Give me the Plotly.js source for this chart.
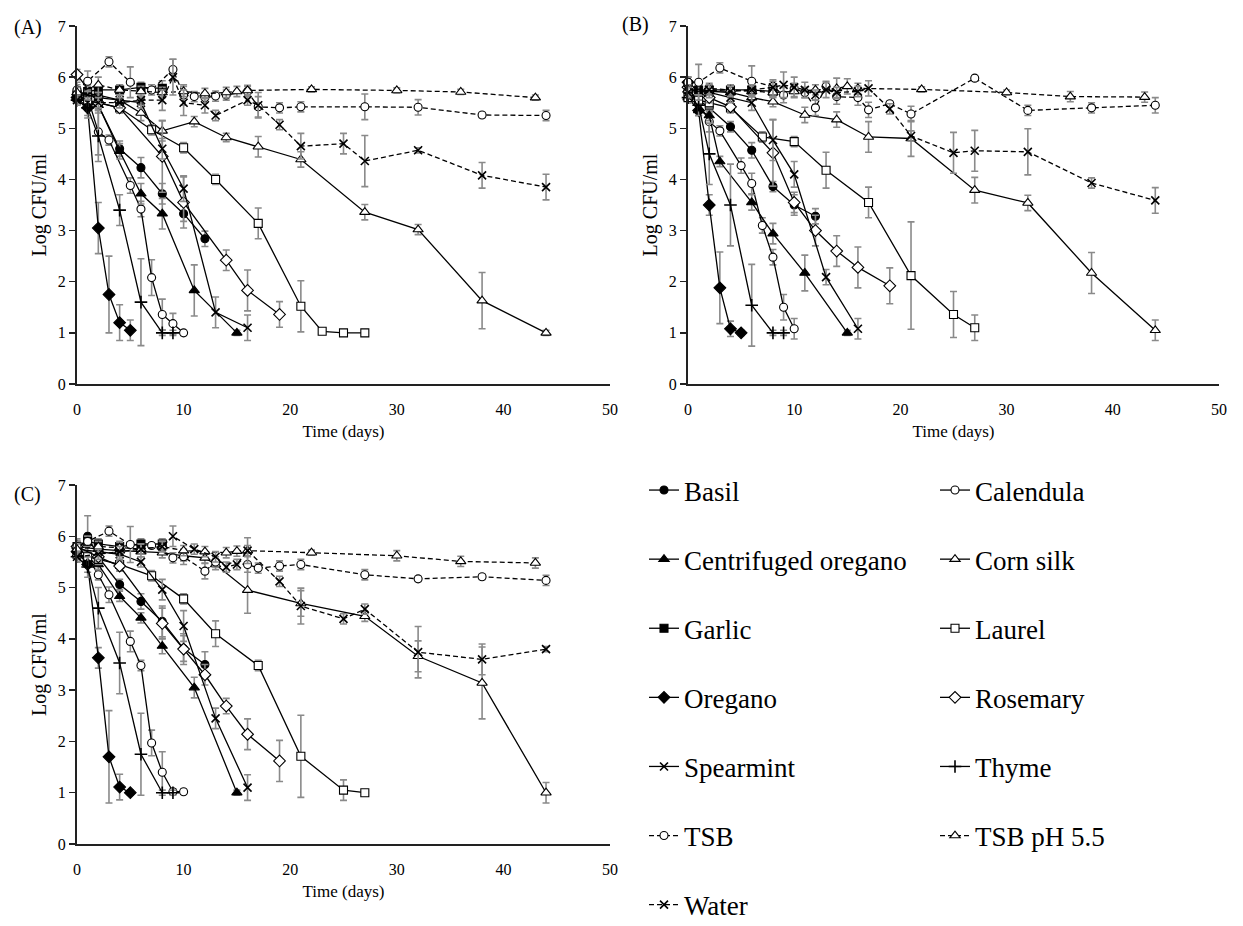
<!DOCTYPE html>
<html><head><meta charset="utf-8">
<script src="https://cdn.plot.ly/plotly-3.0.1.min.js"></script>
<style>html,body{margin:0;padding:0;background:#fff;overflow:hidden}#chart{width:1243px;height:926px}</style>
</head><body><div id="chart"></div>
<script>
// ---------- Panel A ----------
var A_Basil_day=[0,1,2,4,6,8,10,12], A_Basil_log=[5.6,5.55,5.45,4.6,4.23,3.72,3.33,2.84], A_Basil_sd=[0.1,0.1,0.15,0.15,0.2,0.2,0.15,0.15];
var A_Calendula_day=[0,1,2,3,5,6,7,8,9,10], A_Calendula_log=[5.7,5.6,4.93,4.77,3.88,3.42,2.08,1.36,1.18,1.0], A_Calendula_sd=[0.15,0.25,0.45,0.1,0.15,0.15,0.35,0.3,0.2,0.05];
var A_CentOregano_day=[0,1,2,4,6,8,11,15], A_CentOregano_log=[5.6,5.5,5.45,4.55,3.72,3.33,1.83,1.0], A_CentOregano_sd=[0.1,0.1,0.1,0.15,0.2,0.3,0.5,0.05];
var A_CornSilk_day=[0,2,4,6,8,11,14,17,21,27,32,38,44], A_CornSilk_log=[5.7,5.65,5.55,5.3,4.95,5.13,4.82,4.64,4.39,3.36,3.02,1.63,1.0], A_CornSilk_sd=[0.1,0.1,0.1,0.15,0.2,0.1,0.08,0.2,0.15,0.15,0.1,0.55,0.05];
var A_Garlic_day=[0,1,2,4,6,8], A_Garlic_log=[5.65,5.72,5.75,5.75,5.8,5.78], A_Garlic_sd=[0.1,0.1,0.1,0.1,0.1,0.15];
var A_Laurel_day=[0,1,2,4,7,10,13,17,21,23,25,27], A_Laurel_log=[5.6,5.55,5.5,5.4,4.97,4.62,4.0,3.14,1.52,1.03,1.0,1.0], A_Laurel_sd=[0.1,0.1,0.1,0.1,0.1,0.1,0.1,0.3,0.5,0.05,0.05,0.05];
var A_Oregano_day=[0,1,2,3,4,5], A_Oregano_log=[5.6,5.4,3.05,1.75,1.2,1.05], A_Oregano_sd=[0.1,0.15,0.5,0.75,0.35,0.2];
var A_Rosemary_day=[0,2,4,8,10,14,16,19], A_Rosemary_log=[6.05,5.5,5.4,4.45,3.55,2.42,1.83,1.36], A_Rosemary_sd=[0.1,0.1,0.1,0.7,0.5,0.2,0.4,0.25];
var A_Spearmint_day=[0,1,2,4,6,8,10,13,16], A_Spearmint_log=[5.7,5.65,5.6,5.55,5.5,4.6,3.82,1.4,1.1], A_Spearmint_sd=[0.1,0.1,0.1,0.1,0.1,0.2,0.25,0.3,0.25];
var A_Thyme_day=[0,1,2,4,6,8,9], A_Thyme_log=[5.55,5.4,4.85,3.4,1.6,1.0,1.0], A_Thyme_sd=[0.1,0.2,0.5,0.3,0.85,0.05,0.05];
var A_TSB_day=[0,1,3,5,7,9,10,11,12,13,14,16,17,19,21,27,32,38,44], A_TSB_log=[5.75,5.92,6.3,5.9,5.75,6.15,5.65,5.62,5.6,5.63,5.65,5.72,5.42,5.4,5.42,5.42,5.41,5.26,5.25], A_TSB_sd=[0.15,0.2,0.1,0.3,0.1,0.2,0.2,0.1,0.1,0.1,0.1,0.1,0.2,0.1,0.1,0.25,0.15,0.05,0.1];
var A_TSBpH_day=[0,2,4,6,8,10,12,14,15,16,22,30,36,43], A_TSBpH_log=[5.7,5.85,5.75,5.72,5.7,5.72,5.68,5.7,5.72,5.74,5.76,5.74,5.71,5.6], A_TSBpH_sd=[0.1,0.15,0.1,0.1,0.1,0.1,0.1,0.1,0.1,0.1,0.05,0.05,0.05,0.05];
var A_Water_day=[0,2,4,6,8,9,10,12,13,16,17,19,21,25,27,32,38,44], A_Water_log=[5.55,5.5,5.5,5.55,5.55,6.0,5.5,5.45,5.25,5.55,5.45,5.07,4.65,4.7,4.36,4.57,4.08,3.85], A_Water_sd=[0.1,0.1,0.1,0.1,0.2,0.35,0.25,0.15,0.1,0.1,0.25,0.1,0.25,0.2,0.5,0.05,0.25,0.25];
// ---------- Panel B ----------
var B_Basil_day=[0,1,2,4,6,8,10,12], B_Basil_log=[5.7,5.55,5.4,5.03,4.57,3.86,3.5,3.28], B_Basil_sd=[0.1,0.1,0.1,0.1,0.15,0.1,0.2,0.15];
var B_Calendula_day=[0,1,2,3,5,6,7,8,9,10], B_Calendula_log=[5.8,5.5,5.13,4.95,4.27,3.92,3.1,2.48,1.5,1.08], B_Calendula_sd=[0.15,0.2,0.2,0.1,0.15,0.2,0.15,0.15,0.25,0.2];
var B_CentOregano_day=[0,1,2,3,6,8,11,15], B_CentOregano_log=[5.6,5.35,5.25,4.35,3.55,2.94,2.17,1.0], B_CentOregano_sd=[0.1,0.1,0.1,0.1,0.15,0.2,0.35,0.05];
var B_CornSilk_day=[0,2,4,6,8,11,14,17,21,27,32,38,44], B_CornSilk_log=[5.75,5.72,5.7,5.6,5.52,5.26,5.17,4.83,4.8,3.79,3.54,2.17,1.05], B_CornSilk_sd=[0.1,0.1,0.1,0.15,0.1,0.15,0.15,0.3,0.35,0.25,0.15,0.4,0.2];
var B_Garlic_day=[0,1,2,4,6,8], B_Garlic_log=[5.85,5.75,5.75,5.75,5.75,5.72], B_Garlic_sd=[0.15,0.1,0.1,0.1,0.1,0.1];
var B_Laurel_day=[0,1,2,4,7,10,13,17,21,25,27], B_Laurel_log=[5.6,5.55,5.5,5.4,4.83,4.74,4.18,3.55,2.12,1.36,1.1], B_Laurel_sd=[0.1,0.1,0.1,0.1,0.1,0.1,0.35,0.3,1.05,0.45,0.25];
var B_Oregano_day=[0,1,2,3,4,5], B_Oregano_log=[5.9,5.35,3.5,1.88,1.08,1.0], B_Oregano_sd=[0.1,0.1,0.2,0.7,0.15,0.05];
var B_Rosemary_day=[0,2,4,8,10,12,14,16,19], B_Rosemary_log=[5.8,5.6,5.42,4.52,3.55,3.0,2.6,2.28,1.92], B_Rosemary_sd=[0.1,0.1,0.1,0.65,0.2,0.3,0.3,0.4,0.35];
var B_Spearmint_day=[0,2,4,6,8,10,13,16], B_Spearmint_log=[5.75,5.7,5.6,5.5,4.77,4.1,2.09,1.08], B_Spearmint_sd=[0.1,0.1,0.1,0.15,0.4,0.25,0.15,0.2];
var B_Thyme_day=[0,1,2,4,6,8,9], B_Thyme_log=[5.6,5.45,4.5,3.5,1.54,1.0,1.0], B_Thyme_sd=[0.1,0.2,0.6,0.8,0.8,0.05,0.05];
var B_TSB_day=[0,1,3,6,8,9,10,11,12,13,14,16,17,19,21,27,32,38,44], B_TSB_log=[5.9,5.9,6.18,5.92,5.82,5.65,5.78,5.7,5.4,5.82,5.62,5.6,5.36,5.48,5.28,5.98,5.35,5.4,5.45], B_TSB_sd=[0.1,0.35,0.1,0.3,0.1,0.15,0.1,0.1,0.15,0.1,0.15,0.15,0.15,0.05,0.15,0.05,0.1,0.1,0.15];
var B_TSBpH_day=[0,2,4,6,8,10,12,14,15,16,22,30,36,43], B_TSBpH_log=[5.75,5.78,5.75,5.72,5.7,5.72,5.75,5.78,5.82,5.78,5.76,5.7,5.62,5.61], B_TSBpH_sd=[0.1,0.1,0.1,0.1,0.1,0.1,0.1,0.2,0.15,0.1,0.05,0.05,0.1,0.1];
var B_Water_day=[0,2,4,6,8,9,10,11,12,13,14,16,17,19,21,25,27,32,38,44], B_Water_log=[5.7,5.75,5.72,5.75,5.8,5.85,5.8,5.75,5.65,5.75,5.7,5.72,5.78,5.38,4.85,4.52,4.56,4.54,3.93,3.59], B_Water_sd=[0.1,0.1,0.1,0.1,0.15,0.25,0.2,0.15,0.1,0.15,0.1,0.1,0.15,0.1,0.1,0.4,0.4,0.45,0.1,0.25];
// ---------- Panel C ----------
var C_Basil_day=[0,1,2,4,6,8,10,12], C_Basil_log=[5.7,6.0,5.6,5.06,4.73,4.34,3.81,3.5], C_Basil_sd=[0.15,0.4,0.1,0.1,0.15,0.3,0.25,0.25];
var C_Calendula_day=[0,1,2,3,5,6,7,8,9,10], C_Calendula_log=[5.8,5.6,5.25,4.86,3.95,3.48,1.97,1.4,1.02,1.02], C_Calendula_sd=[0.1,0.1,0.1,0.15,0.2,0.1,0.25,0.4,0.05,0.05];
var C_CentOregano_day=[0,1,2,4,6,8,11,15], C_CentOregano_log=[5.65,5.55,5.45,4.83,4.41,3.86,3.05,1.0], C_CentOregano_sd=[0.1,0.1,0.1,0.1,0.1,0.15,0.2,0.05];
var C_CornSilk_day=[0,2,4,6,8,10,12,13,16,21,27,32,38,44], C_CornSilk_log=[5.8,5.75,5.72,5.7,5.68,5.62,5.58,5.45,4.95,4.69,4.44,3.66,3.14,1.0], C_CornSilk_sd=[0.1,0.1,0.1,0.1,0.1,0.1,0.1,0.1,0.45,0.25,0.1,0.3,0.7,0.2];
var C_Garlic_day=[0,1,2,4,6,8], C_Garlic_log=[5.8,5.9,5.85,5.8,5.85,5.85], C_Garlic_sd=[0.15,0.1,0.1,0.1,0.1,0.1];
var C_Laurel_day=[0,1,2,4,7,10,13,17,21,25,27], C_Laurel_log=[5.65,5.6,5.55,5.45,5.23,4.78,4.1,3.48,1.71,1.05,1.0], C_Laurel_sd=[0.1,0.1,0.1,0.1,0.1,0.1,0.25,0.1,0.8,0.2,0.05];
var C_Oregano_day=[0,1,2,3,4,5], C_Oregano_log=[5.7,5.45,3.63,1.7,1.11,1.0], C_Oregano_sd=[0.1,0.15,0.2,0.9,0.25,0.05];
var C_Rosemary_day=[0,2,4,8,10,12,14,16,19], C_Rosemary_log=[5.8,5.6,5.42,4.3,3.8,3.3,2.69,2.14,1.62], C_Rosemary_sd=[0.1,0.1,0.1,0.3,0.3,0.2,0.15,0.3,0.4];
var C_Spearmint_day=[0,2,4,6,8,10,13,16], C_Spearmint_log=[5.75,5.7,5.65,5.5,4.96,4.25,2.45,1.1], C_Spearmint_sd=[0.1,0.1,0.1,0.1,0.2,0.3,0.2,0.25];
var C_Thyme_day=[0,1,2,4,6,8,9], C_Thyme_log=[5.6,5.4,4.6,3.53,1.75,1.0,1.0], C_Thyme_sd=[0.1,0.2,0.4,0.6,0.8,0.05,0.05];
var C_TSB_day=[0,1,3,5,7,9,10,12,13,16,17,19,21,27,32,38,44], C_TSB_log=[5.8,5.9,6.1,5.84,5.82,5.58,5.6,5.32,5.5,5.45,5.38,5.42,5.45,5.25,5.17,5.21,5.14], C_TSB_sd=[0.1,0.1,0.1,0.35,0.05,0.1,0.15,0.15,0.1,0.15,0.1,0.1,0.1,0.1,0.05,0.05,0.1];
var C_TSBpH_day=[0,2,4,6,8,10,12,14,15,16,22,30,36,43], C_TSBpH_log=[5.75,5.8,5.78,5.75,5.8,5.72,5.7,5.68,5.71,5.72,5.68,5.62,5.51,5.48], C_TSBpH_sd=[0.1,0.1,0.1,0.1,0.1,0.1,0.1,0.1,0.1,0.1,0.05,0.1,0.1,0.1];
var C_Water_day=[0,2,4,6,8,9,11,13,14,15,16,19,21,25,27,32,38,44], C_Water_log=[5.6,5.65,5.7,5.75,5.8,6.0,5.75,5.6,5.4,5.45,5.72,5.12,4.64,4.39,4.58,3.74,3.6,3.8], C_Water_sd=[0.1,0.1,0.1,0.1,0.1,0.2,0.1,0.1,0.1,0.1,0.25,0.1,0.35,0.1,0.1,0.5,0.3,0.05];

var seriesKeys=['Basil','Calendula','CentOregano','CornSilk','Garlic','Laurel','Oregano','Rosemary','Spearmint','Thyme','TSB','TSBpH','Water'];
var seriesNames=['Basil','Calendula','Centrifuged oregano','Corn silk','Garlic','Laurel','Oregano','Rosemary','Spearmint','Thyme','TSB','TSB pH 5.5','Water'];
var panelIds=['A','B','C'];
var panelLabels=['(A)','(B)','(C)'];
var xTickVals=[0,10,20,30,40,50];
var yTickVals=[0,1,2,3,4,5,6,7];

var BLK='#000';
var DASH='5px,3px';
var styles={
 Basil:{sym:'circle',fill:BLK,size:8,dash:'solid'},
 Calendula:{sym:'circle',fill:'#fff',size:8,dash:'solid'},
 CentOregano:{sym:'triangle-up',fill:BLK,size:9,dash:'solid'},
 CornSilk:{sym:'triangle-up',fill:'#fff',size:9,dash:'solid'},
 Garlic:{sym:'square',fill:BLK,size:8,dash:'solid'},
 Laurel:{sym:'square',fill:'#fff',size:8,dash:'solid'},
 Oregano:{sym:'diamond',fill:BLK,size:9,dash:'solid'},
 Rosemary:{sym:'diamond',fill:'#fff',size:9,dash:'solid'},
 Spearmint:{sym:'x-thin',fill:BLK,size:8,dash:'solid'},
 Thyme:{sym:'cross-thin',fill:BLK,size:9,dash:'solid'},
 TSB:{sym:'circle',fill:'#fff',size:8,dash:DASH},
 TSBpH:{sym:'triangle-up',fill:'#fff',size:9,dash:DASH},
 Water:{sym:'x-thin',fill:BLK,size:8,dash:DASH}
};

var traces=[];
panelIds.forEach(function(p,pi){
  var xa=['x','x2','x3'][pi], ya=['y','y2','y3'][pi];
  seriesKeys.forEach(function(k,ki){
    var st=styles[k];
    var thin=(st.sym.indexOf('thin')>=0);
    traces.push({
      type:'scatter',mode:'lines+markers',
      name:seriesNames[ki],
      x:window[p+'_'+k+'_day'], y:window[p+'_'+k+'_log'],
      error_y:{type:'data',array:window[p+'_'+k+'_sd'],visible:true,color:'#8a8a8a',thickness:1.6,width:3.5},
      xaxis:xa,yaxis:ya,
      line:{color:BLK,width:1.3,dash:st.dash},
      marker:{symbol:st.sym,size:st.size,color:st.fill,line:{color:BLK,width:thin?1.6:1.1}},
      showlegend:(p==='A'),
      legend:(ki%2===0)?'legend':'legend2',
      legendgroup:k,
      cliponaxis:false
    });
  });
});

var F='Liberation Serif, Times New Roman, serif';
function xax(dom,anchor){return {domain:dom,anchor:anchor,range:[0,50],tickvals:xTickVals,showline:true,linecolor:'#222',linewidth:2,ticks:'outside',ticklen:10,tickcolor:'rgba(0,0,0,0)',showgrid:false,zeroline:false,tickfont:{family:F,size:16,color:'#000'},title:{text:'Time (days)',font:{family:F,size:17,color:'#000'},standoff:8}};}
function yax(dom,anchor){return {domain:dom,anchor:anchor,range:[0,7],tickvals:yTickVals,showline:true,linecolor:'#222',linewidth:2,ticks:'outside',ticklen:6,tickwidth:1.5,tickcolor:'#222',showgrid:false,zeroline:false,tickfont:{family:F,size:16,color:'#000'},title:{text:'Log CFU/ml',font:{family:F,size:20,color:'#000'},standoff:6}};}

var W=1243,H=926;
function fx(px){return px/W;} function fy(py){return 1-py/H;}
var legFont={family:F,size:27,color:'#000'};
var panelLabelPos=[[12,27],[620,25],[12,494]];
var layout={
  width:W,height:H,margin:{l:0,r:0,t:0,b:0,autoexpand:false},paper_bgcolor:'#fff',plot_bgcolor:'#fff',
  font:{family:F,color:'#000'},
  xaxis:xax([fx(77),fx(610)],'y'), yaxis:yax([fy(384),fy(26)],'x'),
  xaxis2:xax([fx(688),fx(1219)],'y2'), yaxis2:yax([fy(384),fy(26)],'x2'),
  xaxis3:xax([fx(77),fx(610)],'y3'), yaxis3:yax([fy(844),fy(485)],'x3'),
  legend:{x:fx(644),y:fy(466),xanchor:'left',yanchor:'top',font:legFont,tracegroupgap:31,bgcolor:'rgba(0,0,0,0)',itemwidth:30},
  legend2:{x:fx(935),y:fy(466),xanchor:'left',yanchor:'top',font:legFont,tracegroupgap:31,bgcolor:'rgba(0,0,0,0)',itemwidth:30},
  annotations:panelLabels.map(function(t,i){return {text:t,x:fx(panelLabelPos[i][0]),y:fy(panelLabelPos[i][1]),xref:'paper',yref:'paper',xanchor:'left',yanchor:'middle',showarrow:false,font:{family:F,size:20,color:'#000'}};})
};
Plotly.newPlot('chart',traces,layout,{staticPlot:true,displayModeBar:false});
</script></body></html>
